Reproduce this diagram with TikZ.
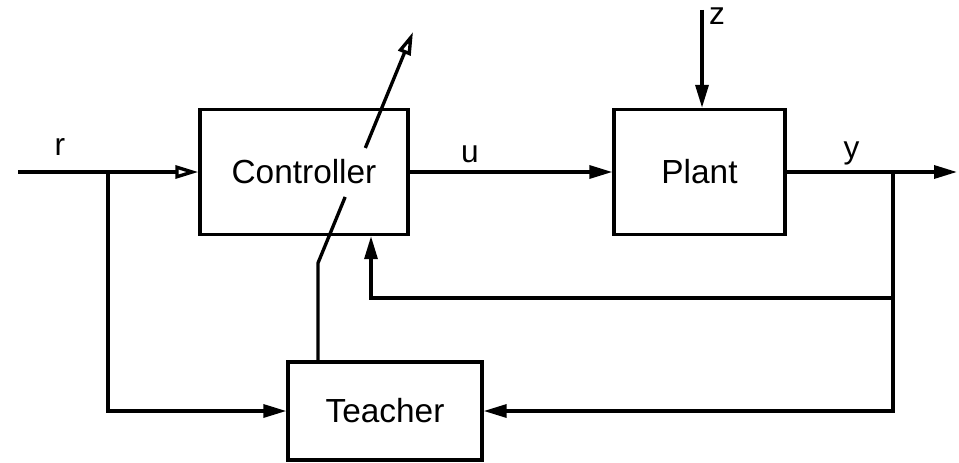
\documentclass[tikz,border=0pt]{standalone}
\usepackage{fontspec}
\setmainfont{Liberation Sans}
\usetikzlibrary{arrows.meta,calc}
\begin{document}
\begin{tikzpicture}[>={Triangle[length=4.6mm,width=2.6mm]},line width=1.9pt,
  block/.style={draw,align=center,minimum width=4.16cm,minimum height=2.5cm,font=\fontsize{19}{23}\selectfont},
  sig/.style={font=\fontsize{18}{22}\selectfont,anchor=base,inner sep=0pt}]
\useasboundingbox (0,0) rectangle (19.18,-9.24);

\node[block] (ctrl) at (6.08,-3.44) {Controller};
\node[block,minimum width=3.42cm] (plant) at (13.99,-3.44) {Plant};
\node[block,minimum width=3.88cm,minimum height=1.96cm] (teach) at (7.7,-8.22) {Teacher};

\coordinate (in) at (0.36,-3.44);
\coordinate (rsplit) at (2.16,-3.44);
\coordinate (ysplit) at (17.86,-3.44);
\coordinate (out) at (19.14,-3.44);
\coordinate (zin) at (14.04,-0.2);
\coordinate (fb) at (17.86,-5.96);
\coordinate (tup) at (6.36,-5.26);
\coordinate (tip) at (8.26,-0.64);

\node[sig] (rlab) at (1.2,-3.1) {r};
\node[sig] (ulab) at (9.4,-3.24) {u};
\node[sig] (ylab) at (17.03,-3.16) {y};
\node[sig] (zlab) at (14.34,-0.5) {z};

\draw[-{Triangle[open,length=4.6mm,width=2.6mm]}] (in) -- (ctrl);
\draw[->] (ctrl) -- (plant);
\draw[->] (plant) -- (out);
\draw[->] (zin) -- (zin |- plant.north);

\draw[->] (rsplit) |- (teach);
\draw[->] (ysplit) |- (teach);
\draw[->] (fb) -| (7.42,0 |- ctrl.south);

\draw (teach.north -| tup) -- (tup) -- ($(tup)!0.286!(tip)$);
\draw[-{Triangle[open,length=4.6mm,width=2.6mm]}] ($(tup)!0.498!(tip)$) -- (tip);
\end{tikzpicture}
\end{document}
